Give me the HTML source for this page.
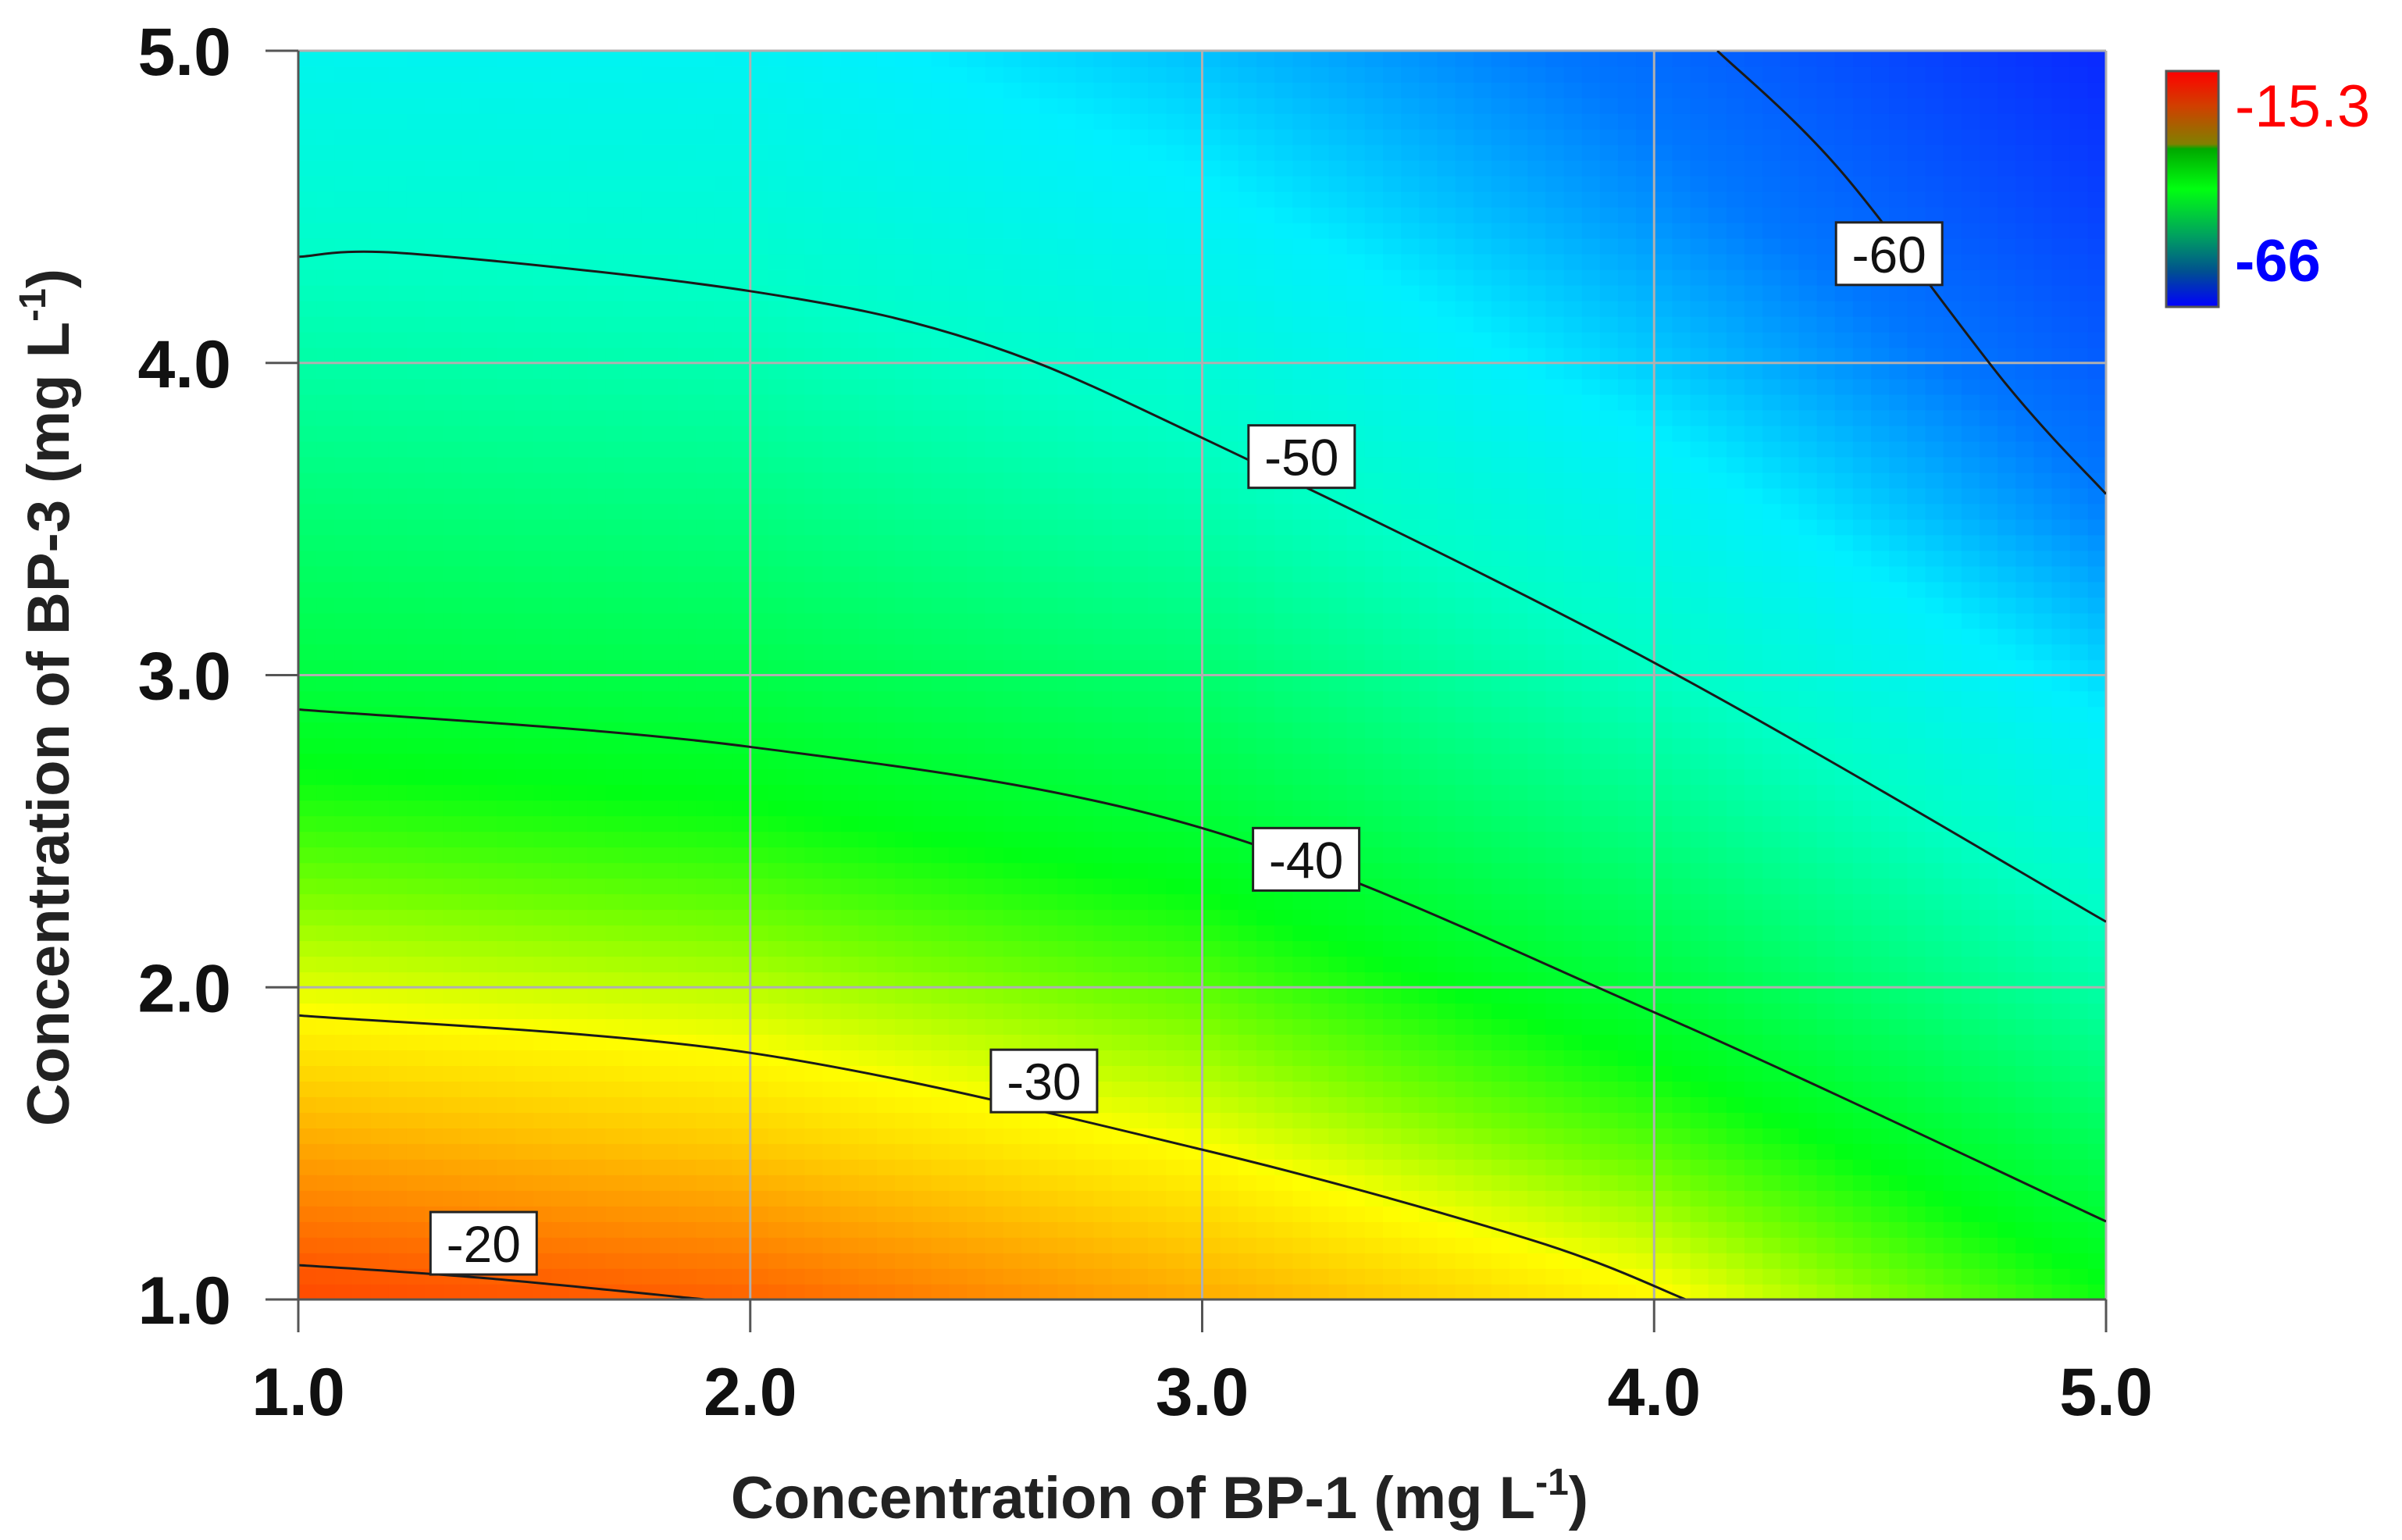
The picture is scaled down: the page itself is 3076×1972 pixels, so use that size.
<!DOCTYPE html>
<html><head><meta charset="utf-8">
<style>
html,body{margin:0;padding:0;background:#fff;}
svg{display:block;font-family:"Liberation Sans",Arial,sans-serif;}
</style></head>
<body>
<svg id="chart" width="3076" height="1972" viewBox="0 0 3076 1972" xmlns="http://www.w3.org/2000/svg">
<defs>
<linearGradient id="cbGrad" x1="0" y1="0" x2="0" y2="1">
<stop offset="0" stop-color="#ff0000"/>
<stop offset="0.15" stop-color="#d04000"/>
<stop offset="0.31" stop-color="#808000"/>
<stop offset="0.33" stop-color="#00a800"/>
<stop offset="0.5" stop-color="#00ff10"/>
<stop offset="0.7" stop-color="#00a060"/>
<stop offset="0.85" stop-color="#005090"/>
<stop offset="1" stop-color="#0000ff"/>
</linearGradient>
<clipPath id="plotClip"><rect x="382" y="65" width="2315" height="1599"/></clipPath>
</defs>
<g id="heat" clip-path="url(#plotClip)"></g>
<g id="grid"></g>
<g id="contours" clip-path="url(#plotClip)"></g>
<g id="labels"></g>
<g id="axes"></g>
<text x="1485" y="1944" text-anchor="middle" font-size="76" font-weight="bold" fill="#222">Concentration of BP-1 (mg L<tspan dy="-30" font-size="48">-1</tspan><tspan dy="30">)</tspan></text>
<text transform="translate(88,893) rotate(-90)" text-anchor="middle" font-size="76" font-weight="bold" fill="#222">Concentration of BP-3 (mg L<tspan dy="-30" font-size="48">-1</tspan><tspan dy="30">)</tspan></text>
<g>
<rect x="2774" y="91" width="67" height="302" fill="url(#cbGrad)" stroke="#555" stroke-width="3"/>
<text x="2862" y="162" font-size="76" fill="#ff0000">-15.3</text>
<text x="2862" y="360" font-size="76" font-weight="bold" fill="#0000ff">-66</text>
</g>
</svg>
<script>
// ---- data ----
const xGrid = [1, 2, 3, 4, 5];
const yGrid = [1, 1.5, 2, 2.5, 3, 3.5, 4, 4.5, 5];
// z values: one array per x column, bottom to top
const zCol1 = [-18.6, -24.9, -30.9, -36, -41, -44.2, -47.7, -51, -53.5];
const zCol2 = [-20.5, -27, -32.1, -37.2, -41.6, -45, -48.4, -51.5, -54];
const zCol3 = [-25, -30.2, -35, -39.9, -44, -48, -51.5, -54.5, -57];
const zCol4 = [-29.5, -35.2, -40.7, -45.2, -49.6, -53.2, -56.5, -59, -61];
const zCol5 = [-37.5, -42.5, -47.8, -52.2, -56, -59.5, -62, -64.2, -66];
const xTicks = [1, 2, 3, 4, 5];
const yTicks = [1, 2, 3, 4, 5];
const xTickLabels = ["1.0", "2.0", "3.0", "4.0", "5.0"];
const yTickLabels = ["1.0", "2.0", "3.0", "4.0", "5.0"];
const contourLevels = ["-20", "-30", "-40", "-50", "-60"];
const c20x = [1, 1.4, 1.9];           const c20y = [1.11, 1.07, 1.0];
const c30x = [1, 2, 3, 3.73, 4.07];   const c30y = [1.91, 1.79, 1.48, 1.19, 1.0];
const c40x = [1, 2, 3, 4, 5];         const c40y = [2.89, 2.77, 2.51, 1.92, 1.25];
const c50x = [1, 1.25, 2, 2.5, 3, 4, 5]; const c50y = [4.34, 4.35, 4.23, 4.07, 3.76, 3.04, 2.21];
const c60x = [4.14, 4.41, 4.78, 5];   const c60y = [5, 4.62, 3.93, 3.58];
const labelX = [1.41, 2.65, 3.23, 3.22, 4.52];
const labelY = [1.18, 1.70, 2.41, 3.70, 4.35];

// ---- axes ----
const PL = 382, PR = 2697, PT = 65, PB = 1664;
const sx = v => PL + (v - 1) / 4 * (PR - PL);
const sy = v => PB - (v - 1) / 4 * (PB - PT);
const NS = "http://www.w3.org/2000/svg";
function mk(tag, attrs, parent) {
  const e = document.createElementNS(NS, tag);
  for (const k in attrs) e.setAttribute(k, attrs[k]);
  parent.appendChild(e);
  return e;
}
const zCols = [zCol1, zCol2, zCol3, zCol4, zCol5];
function zAt(x, y) {
  let i = Math.min(3, Math.max(0, Math.floor(x - 1)));
  let tx = (x - xGrid[i]) / (xGrid[i + 1] - xGrid[i]);
  let j = Math.min(7, Math.max(0, Math.floor((y - 1) / 0.5)));
  let ty = (y - yGrid[j]) / (yGrid[j + 1] - yGrid[j]);
  const a = zCols[i][j], b = zCols[i + 1][j], c = zCols[i][j + 1], d = zCols[i + 1][j + 1];
  return (a * (1 - tx) + b * tx) * (1 - ty) + (c * (1 - tx) + d * tx) * ty;
}
const stops = [[-66,[10,40,255]],[-60,[0,120,255]],[-55,[0,240,255]],[-50,[0,255,200]],[-44,[0,255,110]],[-38,[0,255,20]],[-34,[120,255,0]],[-30,[255,255,0]],[-25,[255,170,0]],[-20,[255,90,0]],[-15,[255,30,0]]];
function col(z) {
  if (z <= stops[0][0]) return stops[0][1];
  for (let k = 0; k < stops.length - 1; k++) {
    if (z <= stops[k + 1][0]) {
      const t = (z - stops[k][0]) / (stops[k + 1][0] - stops[k][0]);
      return stops[k][1].map((v, n) => Math.round(v + (stops[k + 1][1][n] - v) * t));
    }
  }
  return stops[stops.length - 1][1];
}
const heat = document.getElementById('heat');
const NX = 100, NY = 80;
for (let i = 0; i < NX; i++) {
  for (let j = 0; j < NY; j++) {
    const x0 = 1 + 4 * i / NX, x1 = 1 + 4 * (i + 1) / NX;
    const y0 = 1 + 4 * j / NY, y1 = 1 + 4 * (j + 1) / NY;
    const c = col(zAt((x0 + x1) / 2, (y0 + y1) / 2));
    const r = mk('rect', {x: sx(x0).toFixed(1), y: sy(y1).toFixed(1), width: (sx(x1) - sx(x0) + 0.8).toFixed(1), height: (sy(y0) - sy(y1) + 0.8).toFixed(1), fill: `rgb(${c[0]},${c[1]},${c[2]})`}, heat);
    
    
  }
}
// grid
const grid = document.getElementById('grid');
xTicks.forEach(v => { const l = mk('line', {x1: sx(v), x2: sx(v), y1: PT, y2: PB, stroke: '#b0b0b0', 'stroke-width': 3}, grid);   });
yTicks.forEach(v => { const l = mk('line', {x1: PL, x2: PR, y1: sy(v), y2: sy(v), stroke: '#b0b0b0', 'stroke-width': 3}, grid);   });
// contours
function smooth(xs, ys) {
  const p = xs.map((x, k) => [sx(x), sy(ys[k])]);
  let d = `M${p[0][0]},${p[0][1]}`;
  for (let k = 0; k < p.length - 1; k++) {
    const p0 = p[Math.max(0, k - 1)], p1 = p[k], p2 = p[k + 1], p3 = p[Math.min(p.length - 1, k + 2)];
    const c1 = [p1[0] + (p2[0] - p0[0]) / 6, p1[1] + (p2[1] - p0[1]) / 6];
    const c2 = [p2[0] - (p3[0] - p1[0]) / 6, p2[1] - (p3[1] - p1[1]) / 6];
    d += ` C${c1[0]},${c1[1]} ${c2[0]},${c2[1]} ${p2[0]},${p2[1]}`;
  }
  return d;
}
const cont = document.getElementById('contours');
[[c20x,c20y],[c30x,c30y],[c40x,c40y],[c50x,c50y],[c60x,c60y]].forEach((c, k) => {
  const p = mk('path', {d: smooth(c[0], c[1]), fill: 'none', stroke: '#1a1a1a', 'stroke-width': 3}, cont);
  
  
});
const lab = document.getElementById('labels');
contourLevels.forEach((t, k) => {
  const cx = sx(labelX[k]), cy = sy(labelY[k]);
  const r = mk('rect', {x: cx - 68, y: cy - 40, width: 136, height: 80, fill: '#fff', stroke: '#222', 'stroke-width': 3}, lab);
  
  
  const tx = mk('text', {x: cx, y: cy + 24, 'text-anchor': 'middle', 'font-size': 66, fill: '#111'}, lab);
  tx.textContent = t;
  
  
});
// axes
const ax = document.getElementById('axes');
const al = mk('line', {x1: PL, x2: PL, y1: PT, y2: PB + 42, stroke: '#555', 'stroke-width': 3}, ax);
 
const bl = mk('line', {x1: PL - 42, x2: PR, y1: PB, y2: PB, stroke: '#555', 'stroke-width': 3}, ax);
 
xTicks.forEach((v, k) => {
  const l = mk('line', {x1: sx(v), x2: sx(v), y1: PB, y2: PB + 42, stroke: '#555', 'stroke-width': 3}, ax);
   
  const t = mk('text', {x: sx(v), y: 1812, 'text-anchor': 'middle', 'font-size': 86, 'font-weight': 'bold', fill: '#111'}, ax);
  t.textContent = xTickLabels[k];
   
});
yTicks.forEach((v, k) => {
  const l = mk('line', {x1: PL - 42, x2: PL, y1: sy(v), y2: sy(v), stroke: '#555', 'stroke-width': 3}, ax);
   
  const t = mk('text', {x: 296, y: sy(v) + 31, 'text-anchor': 'end', 'font-size': 86, 'font-weight': 'bold', fill: '#111'}, ax);
  t.textContent = yTickLabels[k];
   
});
</script>
</body></html>
